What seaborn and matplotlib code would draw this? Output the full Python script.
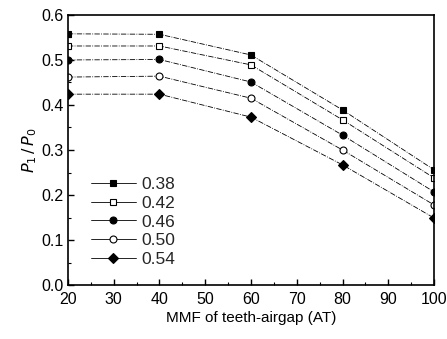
import matplotlib
matplotlib.use("Agg")
import matplotlib.pyplot as plt
import seaborn as sns
import pandas as pd
from matplotlib.ticker import MultipleLocator

# MMF of teeth-airgap (AT)
mmf = [20, 40, 60, 80, 100]

# P1/P0 for each ratio
p_038 = [0.558, 0.557, 0.511, 0.389, 0.256]
p_042 = [0.531, 0.531, 0.489, 0.367, 0.238]
p_046 = [0.500, 0.501, 0.451, 0.333, 0.207]
p_050 = [0.462, 0.464, 0.415, 0.300, 0.178]
p_054 = [0.424, 0.424, 0.373, 0.267, 0.149]

labels = ["0.38", "0.42", "0.46", "0.50", "0.54"]
series = [p_038, p_042, p_046, p_050, p_054]

df = pd.concat([
    pd.DataFrame({"mmf": mmf, "ratio": lab, "p": vals})
    for lab, vals in zip(labels, series)
])

sns.set_theme(style="ticks")
plt.rcParams["font.family"] = ["Liberation Sans", "DejaVu Sans"]

fig = plt.figure(figsize=(4.47, 3.39), dpi=100)
ax = fig.add_axes([0.152, 0.159, 0.819, 0.797])

markers = ["s", "s", "o", "o", "D"]
faces = ["black", "white", "black", "white", "black"]
sizes = [4.5, 4.5, 5, 5, 5]

for lab, m, fc, ms in zip(labels, markers, faces, sizes):
    d = df[df["ratio"] == lab]
    ax.plot(d["mmf"], d["p"], color="black", lw=0.6, ls="-.",
            marker=m, mfc=fc, mec="black", ms=ms, mew=0.8, label=lab)

ax.set_xlim(20, 100)
ax.set_ylim(0.0, 0.6)
ax.xaxis.set_major_locator(MultipleLocator(10))
ax.xaxis.set_minor_locator(MultipleLocator(5))
ax.yaxis.set_major_locator(MultipleLocator(0.1))
ax.yaxis.set_minor_locator(MultipleLocator(0.05))
ax.yaxis.set_major_formatter(matplotlib.ticker.FormatStrFormatter("%.1f"))
ax.tick_params(which="both", direction="in", color="black", labelsize=11.5,
               labelcolor="black")
ax.tick_params(axis="x", pad=5)
ax.tick_params(axis="y", pad=3)
ax.tick_params(which="major", length=4, width=1)
ax.tick_params(which="minor", length=2, width=0.8)
for s in ax.spines.values():
    s.set_color("black")
    s.set_linewidth(1.2)

ax.set_xlabel("MMF of teeth-airgap (AT)", fontsize=11, color="black", labelpad=3)
ax.set_ylabel(r"$P_1\,/\,P_0$", fontsize=11.5, color="black", labelpad=2)

leg = ax.legend(loc="lower left", bbox_to_anchor=(0.02, 0.01), frameon=False,
                fontsize=12.5, handlelength=2.6, handletextpad=0.3,
                labelspacing=0.2)
for h in leg.get_lines():
    h.set_linestyle("-")

fig.savefig("out.png", dpi=100)
